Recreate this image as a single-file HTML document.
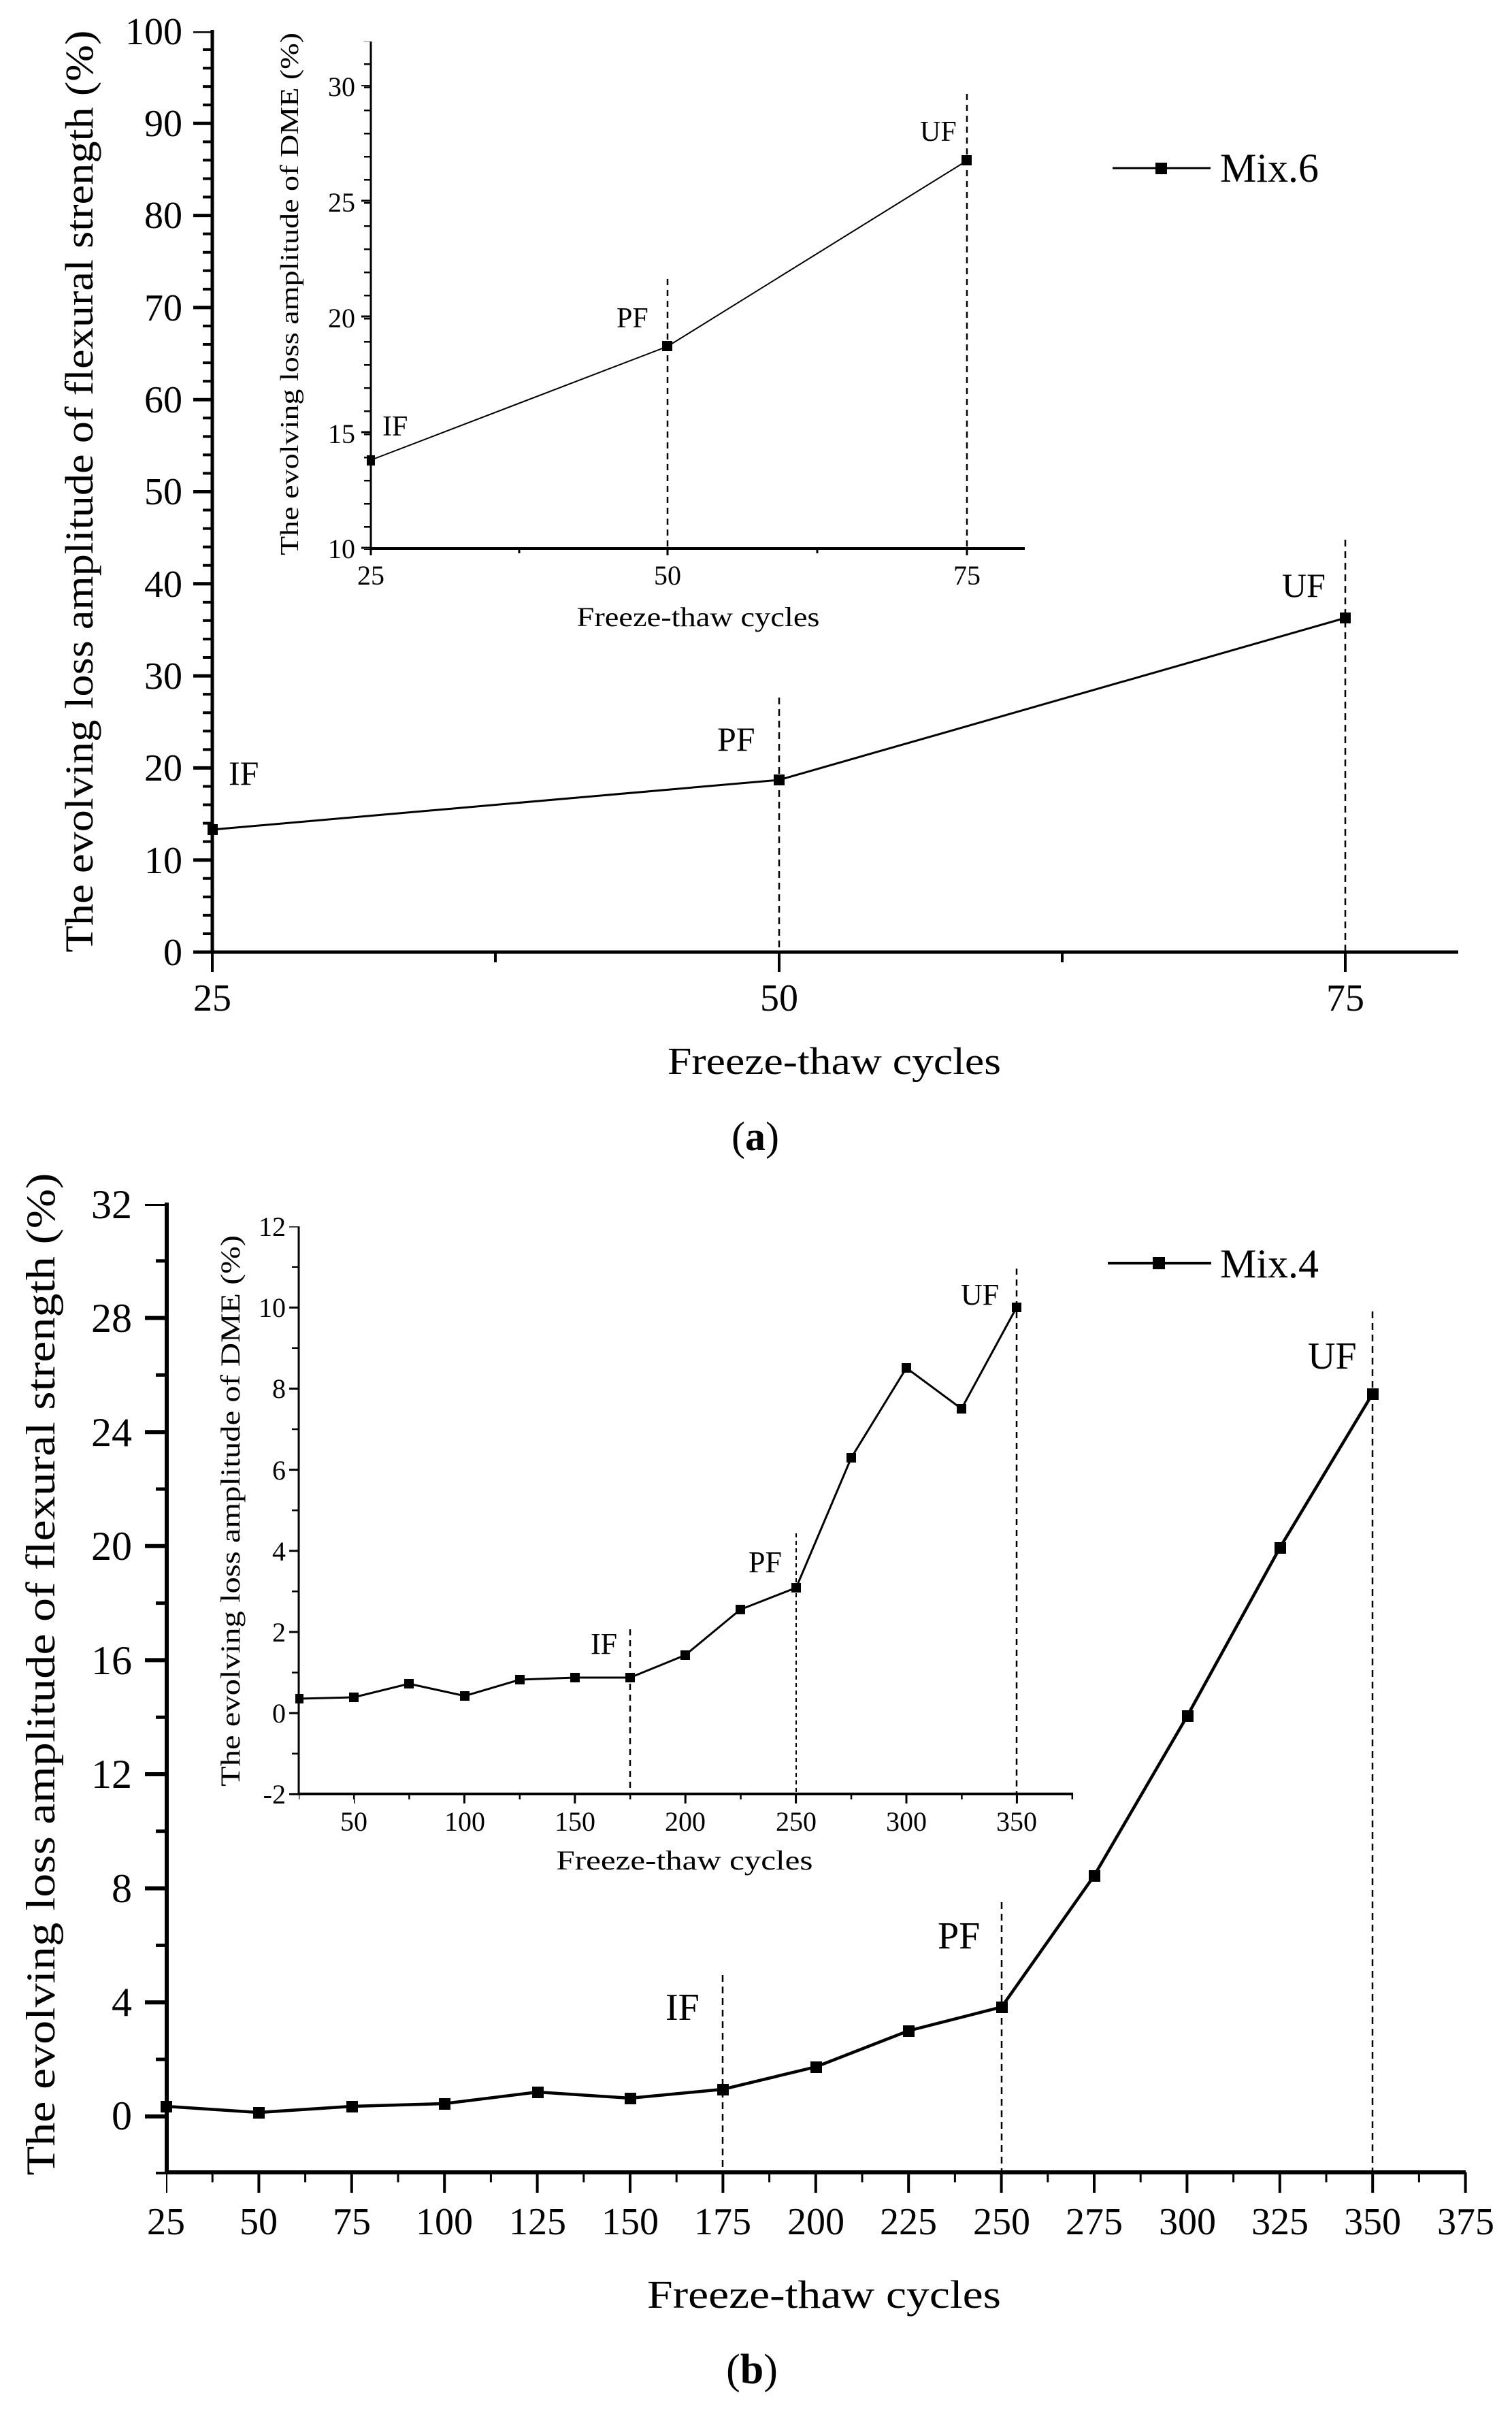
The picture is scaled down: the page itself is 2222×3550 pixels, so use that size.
<!DOCTYPE html>
<html><head><meta charset="utf-8"><style>
html,body{margin:0;padding:0;background:#fff}
svg{display:block}
text{font-family:"Liberation Serif",serif;fill:#000}
</style></head><body>
<svg width="2222" height="3550" viewBox="0 0 2222 3550" xmlns="http://www.w3.org/2000/svg">
<!-- ============ PANEL A ============ -->
<!-- main axes -->
<line x1="312" y1="44" x2="312" y2="1401" stroke="#000" stroke-width="5"/>
<line x1="310" y1="1399" x2="2143" y2="1399" stroke="#000" stroke-width="5"/>
<!-- y ticks major -->
<line x1="298" y1="46" x2="298" y2="1402" stroke="#000" stroke-width="28" stroke-dasharray="5 130.3" stroke-dashoffset="2.5"/>
<!-- y ticks minor -->
<line x1="305" y1="46" x2="305" y2="1402" stroke="#000" stroke-width="14" stroke-dasharray="4 23.06" stroke-dashoffset="2"/>
<!-- x ticks -->
<g stroke="#000" stroke-width="4">
<line x1="312" y1="1399" x2="312" y2="1428"/><line x1="1145" y1="1399" x2="1145" y2="1428"/><line x1="1977" y1="1399" x2="1977" y2="1428"/>
<line x1="728" y1="1399" x2="728" y2="1414"/><line x1="1561" y1="1399" x2="1561" y2="1414"/>
</g>
<g font-size="56" text-anchor="end">
<text x="268" y="65">100</text><text x="268" y="200">90</text><text x="268" y="335">80</text><text x="268" y="471">70</text><text x="268" y="606">60</text><text x="268" y="741">50</text><text x="268" y="877">40</text><text x="268" y="1012">30</text><text x="268" y="1147">20</text><text x="268" y="1283">10</text><text x="268" y="1418">0</text>
</g>
<g font-size="56" text-anchor="middle">
<text x="312" y="1485">25</text><text x="1145" y="1485">50</text><text x="1977" y="1485">75</text>
<text x="1226" y="1578" textLength="490" lengthAdjust="spacingAndGlyphs">Freeze-thaw cycles</text>
<text x="1110" y="1690" font-size="60">(<tspan font-weight="bold">a</tspan>)</text>
</g>
<text transform="translate(136,722) rotate(-90)" font-size="58" text-anchor="middle" textLength="1355" lengthAdjust="spacingAndGlyphs">The evolving loss amplitude of flexural strength (%)</text>
<!-- dashed -->
<g stroke="#000" stroke-width="2.5" stroke-dasharray="10 7">
<line x1="1145" y1="1025" x2="1145" y2="1399"/><line x1="1977" y1="793" x2="1977" y2="1399"/>
</g>
<polyline points="312,1219 1145,1146 1977,908" fill="none" stroke="#000" stroke-width="3"/>
<g fill="#000"><rect x="305" y="1211" width="15" height="16"/><rect x="1137" y="1138" width="16" height="16"/><rect x="1969" y="900" width="16" height="16"/></g>
<g font-size="50">
<text x="336" y="1153">IF</text><text x="1054" y="1103">PF</text><text x="1884" y="877">UF</text>
</g>
<!-- legend a -->
<line x1="1635" y1="247" x2="1779" y2="247" stroke="#000" stroke-width="3"/>
<rect x="1698" y="239" width="17" height="17" fill="#000"/>
<text x="1793" y="267" font-size="60">Mix.6</text>

<!-- inset a -->
<line x1="545" y1="61" x2="545" y2="807" stroke="#000" stroke-width="3"/>
<line x1="544" y1="806" x2="1506" y2="806" stroke="#000" stroke-width="4"/>
<line x1="540" y1="61" x2="540" y2="808" stroke="#000" stroke-width="10" stroke-dasharray="2.5 31.5" stroke-dashoffset="-32"/>
<line x1="538" y1="125" x2="538" y2="808" stroke="#000" stroke-width="14" stroke-dasharray="3 167" stroke-dashoffset="1.5"/>
<g stroke="#000" stroke-width="3">
<line x1="545" y1="806" x2="545" y2="816"/><line x1="981" y1="806" x2="981" y2="816"/><line x1="1421" y1="806" x2="1421" y2="816"/>
<line x1="763" y1="806" x2="763" y2="813"/><line x1="1201" y1="806" x2="1201" y2="813"/>
</g>
<g font-size="40" text-anchor="end">
<text x="522" y="141">30</text><text x="522" y="311">25</text><text x="522" y="481">20</text><text x="522" y="651">15</text><text x="522" y="820">10</text>
</g>
<g font-size="40" text-anchor="middle">
<text x="545" y="859">25</text><text x="981" y="859">50</text><text x="1421" y="859">75</text>
<text x="1026" y="920" textLength="357" lengthAdjust="spacingAndGlyphs">Freeze-thaw cycles</text>
</g>
<text transform="translate(438,432) rotate(-90)" font-size="38" text-anchor="middle" textLength="768" lengthAdjust="spacingAndGlyphs">The evolving loss amplitude of DME (%)</text>
<g stroke="#000" stroke-width="2.5" stroke-dasharray="9 7">
<line x1="981" y1="410" x2="981" y2="806"/><line x1="1421" y1="138" x2="1421" y2="806"/>
</g>
<polyline points="545,676 981,509 1421,236" fill="none" stroke="#000" stroke-width="2"/>
<g fill="#000"><rect x="539" y="669" width="12" height="15"/><rect x="973" y="501" width="15" height="15"/><rect x="1413" y="228" width="15" height="15"/></g>
<g font-size="42">
<text x="562" y="640">IF</text><text x="906" y="481">PF</text><text x="1352" y="207">UF</text>
</g>

<!-- ============ PANEL B ============ -->
<line x1="245" y1="1767" x2="245" y2="3194" stroke="#000" stroke-width="6"/>
<line x1="243" y1="3192" x2="2154" y2="3192" stroke="#000" stroke-width="6"/>
<line x1="229" y1="1769" x2="229" y2="3195" stroke="#000" stroke-width="32" stroke-dasharray="6 161.6" stroke-dashoffset="3"/>
<line x1="237" y1="1769" x2="237" y2="3195" stroke="#000" stroke-width="16" stroke-dasharray="5 78.8" stroke-dashoffset="-81.3"/>
<!-- x ticks major every 25 -->
<line x1="244" y1="3207" x2="2160" y2="3207" stroke="#000" stroke-width="30" stroke-dasharray="4 132.4" stroke-dashoffset="2"/>
<line x1="244" y1="3199" x2="2160" y2="3199" stroke="#000" stroke-width="15" stroke-dasharray="3 133.4" stroke-dashoffset="-66.7"/>
<g font-size="60" text-anchor="end">
<text x="194" y="1790">32</text><text x="194" y="1957">28</text><text x="194" y="2125">24</text><text x="194" y="2292">20</text><text x="194" y="2460">16</text><text x="194" y="2627">12</text><text x="194" y="2795">8</text><text x="194" y="2962">4</text><text x="194" y="3129">0</text>
</g>
<g font-size="56" text-anchor="middle">
<text x="244" y="3283">25</text><text x="380" y="3283">50</text><text x="517" y="3283">75</text><text x="653" y="3283">100</text><text x="790" y="3283">125</text><text x="926" y="3283">150</text><text x="1062" y="3283">175</text><text x="1199" y="3283">200</text><text x="1335" y="3283">225</text><text x="1472" y="3283">250</text><text x="1608" y="3283">275</text><text x="1745" y="3283">300</text><text x="1881" y="3283">325</text><text x="2017" y="3283">350</text><text x="2154" y="3283">375</text>
<text x="1211" y="3391" font-size="58" textLength="520" lengthAdjust="spacingAndGlyphs">Freeze-thaw cycles</text>
<text x="1105" y="3502" font-size="62">(<tspan font-weight="bold">b</tspan>)</text>
</g>
<text transform="translate(80,2460) rotate(-90)" font-size="60" text-anchor="middle" textLength="1473" lengthAdjust="spacingAndGlyphs">The evolving loss amplitude of flexural strength (%)</text>
<g stroke="#000" stroke-width="2.5" stroke-dasharray="10 7">
<line x1="1062" y1="2902" x2="1062" y2="3192"/><line x1="1472" y1="2795" x2="1472" y2="3192"/><line x1="2017" y1="1927" x2="2017" y2="3192"/>
</g>
<polyline points="244,3095 380,3104 517,3095 653,3091 790,3074 926,3083 1062,3070 1199,3037 1335,2984 1472,2949 1608,2756 1745,2521 1881,2274 2017,2048" fill="none" stroke="#000" stroke-width="4.5"/>
<g fill="#000">
<rect x="236" y="3087" width="17" height="17"/><rect x="372" y="3096" width="17" height="17"/><rect x="509" y="3087" width="17" height="17"/><rect x="645" y="3083" width="17" height="17"/><rect x="782" y="3066" width="17" height="17"/><rect x="918" y="3075" width="17" height="17"/><rect x="1054" y="3062" width="17" height="17"/><rect x="1191" y="3029" width="17" height="17"/><rect x="1327" y="2976" width="17" height="17"/><rect x="1464" y="2941" width="17" height="17"/><rect x="1600" y="2748" width="17" height="17"/><rect x="1737" y="2513" width="17" height="17"/><rect x="1873" y="2266" width="17" height="17"/><rect x="2009" y="2040" width="17" height="17"/>
</g>
<g font-size="56">
<text x="978" y="2968">IF</text><text x="1378" y="2863">PF</text><text x="1922" y="2011">UF</text>
</g>
<line x1="1628" y1="1856" x2="1780" y2="1856" stroke="#000" stroke-width="4"/>
<rect x="1694" y="1847" width="18" height="18" fill="#000"/>
<text x="1793" y="1877" font-size="60">Mix.4</text>

<!-- inset b -->
<line x1="439" y1="1802" x2="439" y2="2637" stroke="#000" stroke-width="3"/>
<line x1="438" y1="2636" x2="1577" y2="2636" stroke="#000" stroke-width="4"/>
<line x1="434" y1="1802" x2="434" y2="2638" stroke="#000" stroke-width="10" stroke-dasharray="2.5 57.1" stroke-dashoffset="1.25"/>
<line x1="432" y1="1802" x2="432" y2="2638" stroke="#000" stroke-width="14" stroke-dasharray="3 116.2" stroke-dashoffset="1.5"/>
<line x1="439" y1="2640" x2="1580" y2="2640" stroke="#000" stroke-width="8" stroke-dasharray="2.5 78.7" stroke-dashoffset="1.25"/>
<line x1="520" y1="2643" x2="1580" y2="2643" stroke="#000" stroke-width="14" stroke-dasharray="3 159.4" stroke-dashoffset="1.5"/>
<g font-size="40" text-anchor="end">
<text x="420" y="1816">12</text><text x="420" y="1935">10</text><text x="420" y="2054">8</text><text x="420" y="2174">6</text><text x="420" y="2293">4</text><text x="420" y="2412">2</text><text x="420" y="2531">0</text><text x="420" y="2650">-2</text>
</g>
<g font-size="40" text-anchor="middle">
<text x="520" y="2690">50</text><text x="683" y="2690">100</text><text x="845" y="2690">150</text><text x="1007" y="2690">200</text><text x="1170" y="2690">250</text><text x="1332" y="2690">300</text><text x="1494" y="2690">350</text>
<text x="1006" y="2747" textLength="377" lengthAdjust="spacingAndGlyphs">Freeze-thaw cycles</text>
</g>
<text transform="translate(352,2220) rotate(-90)" font-size="40" text-anchor="middle" textLength="810" lengthAdjust="spacingAndGlyphs">The evolving loss amplitude of DME (%)</text>
<g stroke="#000" stroke-width="2.5" stroke-dasharray="9 7">
<line x1="926" y1="2394" x2="926" y2="2636"/><line x1="1494" y1="1864" x2="1494" y2="2636"/>
</g>
<line x1="1170" y1="2253" x2="1170" y2="2636" stroke="#000" stroke-width="2" stroke-dasharray="6 5"/>
<polyline points="439,2496 520,2494 601,2474 683,2492 764,2468 845,2465 926,2465 1007,2432 1088,2365 1170,2333 1251,2142 1332,2010 1413,2070 1494,1921" fill="none" stroke="#000" stroke-width="3"/>
<g fill="#000">
<rect x="434" y="2489" width="12" height="14"/><rect x="513" y="2487" width="14" height="14"/><rect x="594" y="2467" width="14" height="14"/><rect x="676" y="2485" width="14" height="14"/><rect x="757" y="2461" width="14" height="14"/><rect x="838" y="2458" width="14" height="14"/><rect x="919" y="2458" width="14" height="14"/><rect x="1000" y="2425" width="14" height="14"/><rect x="1081" y="2358" width="14" height="14"/><rect x="1163" y="2326" width="14" height="14"/><rect x="1244" y="2135" width="14" height="14"/><rect x="1325" y="2003" width="14" height="14"/><rect x="1406" y="2063" width="14" height="14"/><rect x="1487" y="1914" width="14" height="14"/>
</g>
<g font-size="44">
<text x="868" y="2430">IF</text><text x="1100" y="2310">PF</text><text x="1412" y="1917">UF</text>
</g>
</svg>
</body></html>
